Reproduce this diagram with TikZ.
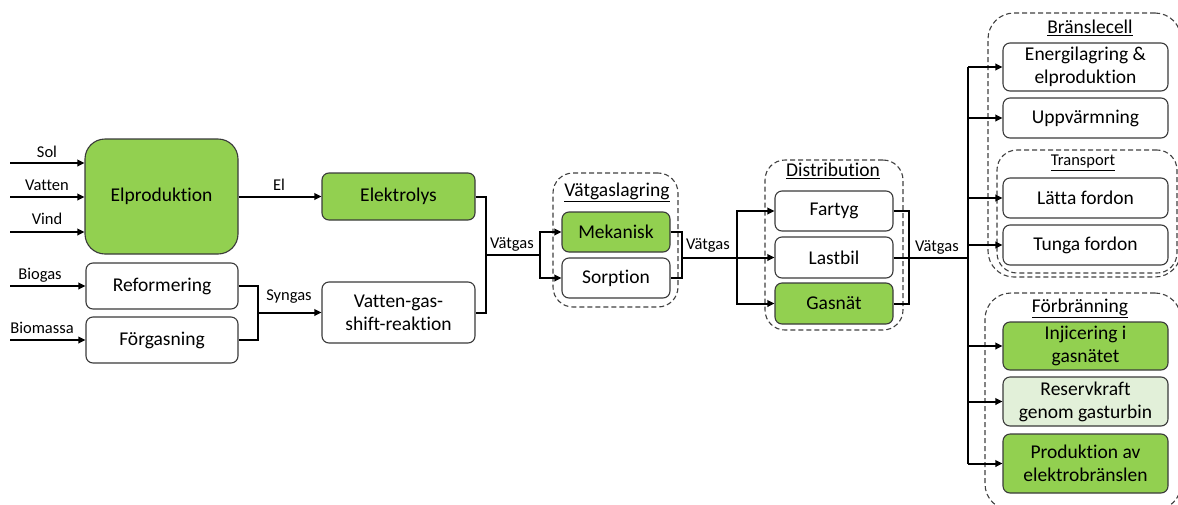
\documentclass[tikz,border=0pt]{standalone}
\usepackage{fontspec}
\setmainfont{Carlito}[Ligatures=NoCommon]
\usetikzlibrary{arrows.meta,calc}
\definecolor{leaf}{HTML}{92D050}
\definecolor{paleleaf}{HTML}{E2F0D9}
\definecolor{rim}{HTML}{3A3A3A}
\definecolor{dashrim}{HTML}{404040}
\begin{document}
\begin{tikzpicture}[x=1pt,y=-1pt,
  box/.style={draw=rim,line width=1.1pt,rounded corners=7pt,fill=white,align=center,
    inner sep=0pt,font=\fontsize{19.5}{23}\selectfont},
  leafbox/.style={box,fill=leaf},
  palebox/.style={box,fill=paleleaf},
  group/.style={draw=dashrim,line width=1.1pt,dash pattern=on 5pt off 3pt,rounded corners=20pt,inner sep=0pt},
  grouptitle/.style={inner sep=0pt,font=\fontsize{19.5}{22}\selectfont},
  lbl/.style={inner sep=0pt,font=\fontsize{16.5}{18}\selectfont},
  wire/.style={line width=2pt,black},
  arrow/.style={wire,-{Triangle[length=7pt,width=6.5pt]}},
]
\useasboundingbox (0,0) rectangle (1178,504);

% --- production stage ---
\node[leafbox,rounded corners=20pt,minimum width=153pt,minimum height=115pt] (elp) at (161.5,196.5) {Elproduktion};
\node[box,minimum width=152pt,minimum height=46pt] (ref) at (162,286) {Reformering};
\node[box,minimum width=152pt,minimum height=46pt] (forg) at (162,340) {Förgasning};

\coordinate (inSol) at (10,163);
\coordinate (inVatten) at (10,197);
\coordinate (inVind) at (10,232);
\coordinate (inBiogas) at (10,286);
\coordinate (inBiomassa) at (10,340);
\draw[arrow] (inSol) -- (inSol -| elp.west);
\draw[arrow] (inVatten) -- (inVatten -| elp.west);
\draw[arrow] (inVind) -- (inVind -| elp.west);
\draw[arrow] (inBiogas) -- (ref.west);
\draw[arrow] (inBiomassa) -- (forg.west);
\node[lbl] (tSol) at (47,152) {Sol};
\node[lbl] (tVatten) at (47,185) {Vatten};
\node[lbl] (tVind) at (47,219) {Vind};
\node[lbl] (tBiogas) at (40,275) {Biogas};
\node[lbl] (tBiomassa) at (42,328) {Biomassa};

% --- conversion stage ---
\node[leafbox,minimum width=153pt,minimum height=47pt] (elek) at (398.5,196.5) {Elektrolys};
\node[box,minimum width=153pt,minimum height=61pt] (vgs) at (398.5,312.5) {Vatten-gas-\\shift-reaktion};

\draw[arrow] (elp.east |- elek.west) -- (elek.west);
\node[lbl] (tEl) at (279,185) {El};

\coordinate (synj) at (258,312.5);
\draw[wire] (ref.east) -| (synj) |- (forg.east);
\draw[arrow] (synj) -- (vgs.west);
\node[lbl] (tSyngas) at (289,297) {Syngas};

% --- storage ---
\node[group,minimum width=125pt,minimum height=134pt] (stor) at (615.5,240) {};
\node[grouptitle] (storT) at (617,192) {\underline{Vätgaslagring}};
\node[leafbox,minimum width=108pt,minimum height=40pt] (mek) at (616,232) {Mekanisk};
\node[box,minimum width=108pt,minimum height=40pt] (sorp) at (616,278) {Sorption};

\coordinate (h2a) at (486,254.5);
\coordinate (split1) at (540,254.5);
\draw[wire] (elek.east) -| (h2a) |- (vgs.east);
\draw[wire] (h2a) -- (split1);
\draw[arrow] (split1) |- (mek.west);
\draw[arrow] (split1) |- (sorp.west);
\node[lbl] (tH2a) at (512,244) {Vätgas};

% --- distribution ---
\node[group,minimum width=138pt,minimum height=170pt] (dist) at (834,245) {};
\node[grouptitle] (distT) at (833,171) {\underline{Distribution}};
\node[box,minimum width=118pt,minimum height=40pt] (fart) at (834,211) {Fartyg};
\node[box,minimum width=118pt,minimum height=41pt] (last) at (834,257.5) {Lastbil};
\node[leafbox,minimum width=118pt,minimum height=41pt] (gas) at (834,303.5) {Gasnät};

\coordinate (h2b) at (682,257.5);
\coordinate (split2) at (737,257.5);
\draw[wire] (mek.east) -| (h2b) |- (sorp.east);
\draw[arrow] (h2b) -- (last.west);
\draw[arrow] (split2) |- (fart.west);
\draw[arrow] (split2) |- (gas.west);
\node[lbl] (tH2b) at (708,245) {Vätgas};

% --- end uses ---
\node[group,rounded corners=26pt,minimum width=193pt,minimum height=264pt] (fc) at (1084.5,145) {};
\node[grouptitle] (fcT) at (1090,28) {\underline{Bränslecell}};
\node[box,minimum width=165pt,minimum height=48pt] (ener) at (1085.5,67) {Energilagring \&\\elproduktion};
\node[box,minimum width=165pt,minimum height=40pt] (uppv) at (1085.5,118) {Uppvärmning};

\node[group,minimum width=180pt,minimum height=123pt] (tr) at (1087,211.5) {};
\node[inner sep=0pt,font=\fontsize{16.5}{18}\selectfont] (trT) at (1083,163) {\underline{Transport}};
\node[box,minimum width=165pt,minimum height=40pt] (latt) at (1085.5,198) {Lätta fordon};
\node[box,minimum width=165pt,minimum height=40pt] (tung) at (1085.5,245) {Tunga fordon};

\node[group,rounded corners=26pt,minimum width=196pt,minimum height=217pt] (comb) at (1083,401.5) {};
\node[grouptitle] (combT) at (1080,308) {\underline{Förbränning}};
\node[leafbox,minimum width=165pt,minimum height=48pt] (inj) at (1085.5,346) {Injicering i\\gasnätet};
\node[palebox,minimum width=165pt,minimum height=49pt] (res) at (1085.5,401.5) {Reservkraft\\genom gasturbin};
\node[leafbox,minimum width=165pt,minimum height=59pt] (prod) at (1085.5,463.5) {Produktion av\\elektrobränslen};

\coordinate (h2c) at (909,257.5);
\coordinate (ttop) at (968,67);
\coordinate (tbot) at (968,463.5);
\draw[wire] (fart.east) -| (h2c) |- (gas.east);
\draw[wire] (last.east) -- (last.east -| ttop);
\draw[wire] (ttop) -- (tbot);
\node[lbl] (tH2c) at (937,247) {Vätgas};
\foreach \n in {ener,uppv,latt,tung,inj,res,prod}
  \draw[arrow] (ttop |- \n.west) -- (\n.west);
\end{tikzpicture}
\end{document}
